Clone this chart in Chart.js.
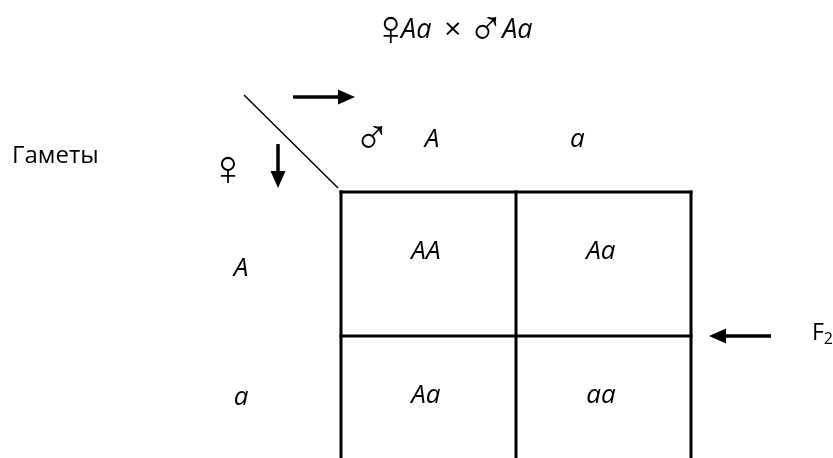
<!DOCTYPE html>
<html>
<head>
<meta charset="UTF-8">
<title>Punnett square</title>
<script src="https://cdn.jsdelivr.net/npm/chart.js@4/dist/chart.umd.min.js"></script>
<style>
  body { margin: 0; background: #fff; }
  #wrap { width: 833px; height: 458px; }
</style>
</head>
<body>
<div id="wrap"><canvas id="punnett" width="833" height="458"></canvas></div>
<script>
// Cross data
const crossTitle = ['♀', 'Aa', '×', '♂', 'Aa'];
const maleGametes = ['A', 'a'];
const femaleGametes = ['A', 'a'];
const offspring = [
    ['AA', 'Aa'],
    ['Aa', 'aa']
];
const gametesLabel = 'Гаметы';
const generationLabel = 'F';
const generationSub = '2';

// Layout, in cell units (one column / one row of the square = 1)
const layout = {
    maleX: [0.52, 1.35], maleY: -0.365,
    femaleX: -0.571, femaleY: [0.535, 1.43],
    cellDx: 0.485, cellDy: 0.415,
    gridBottom: 1.9,
    titleLeft: 0.24, titleY: -1.125,
    titleGaps: [1, 14, 15, 3] // px before parts 1..4
};

const fontText = '"Open Sans", "DejaVu Sans", sans-serif';
const fontSym = '50px "Liberation Sans", "DejaVu Sans", sans-serif';
const fontItalic = 'italic 26px ' + fontText;

// cell points (invisible), so the square lives on the scales
const cellPoints = [];
offspring.forEach((row, r) => row.forEach((g, c) => cellPoints.push({ x: c + layout.cellDx, y: r + layout.cellDy, g: g })));

function isSym(t) { return t === '♀' || t === '♂'; }

function arrow(ctx, x1, y1, x2, y2, head, half, width) {
    const a = Math.atan2(y2 - y1, x2 - x1);
    const bx = x2 - head * Math.cos(a), by = y2 - head * Math.sin(a);
    ctx.save();
    ctx.strokeStyle = '#000';
    ctx.fillStyle = '#000';
    ctx.lineWidth = width;
    ctx.beginPath();
    ctx.moveTo(x1, y1);
    ctx.lineTo(bx, by);
    ctx.stroke();
    ctx.beginPath();
    ctx.moveTo(x2, y2);
    ctx.lineTo(bx + half * Math.sin(a), by - half * Math.cos(a));
    ctx.lineTo(bx - half * Math.sin(a), by + half * Math.cos(a));
    ctx.closePath();
    ctx.fill();
    ctx.restore();
}

const squarePlugin = {
    id: 'square',
    afterDraw(chart) {
        const ctx = chart.ctx;
        const xs = chart.scales.x, ys = chart.scales.y;
        const px = v => xs.getPixelForValue(v);
        const py = v => ys.getPixelForValue(v);
        const cols = maleGametes.length, rows = femaleGametes.length;

        ctx.save();
        // grid of the square (open at the bottom)
        ctx.strokeStyle = '#000';
        ctx.lineWidth = 3;
        for (let c = 0; c <= cols; c++) {
            ctx.beginPath();
            ctx.moveTo(px(c), py(0) - 1.5);
            ctx.lineTo(px(c), py(layout.gridBottom));
            ctx.stroke();
        }
        for (let r = 0; r < rows; r++) {
            ctx.beginPath();
            ctx.moveTo(px(0) - 1.5, py(r));
            ctx.lineTo(px(cols) + 1.5, py(r));
            ctx.stroke();
        }

        // diagonal corner line
        ctx.lineWidth = 1.5;
        ctx.beginPath();
        ctx.moveTo(px(-0.554), py(-0.674));
        ctx.lineTo(px(-0.017), py(-0.028));
        ctx.stroke();

        // arrows
        arrow(ctx, px(-0.274), py(-0.66), px(0.08), py(-0.66), 17, 7.5, 3.5);
        arrow(ctx, px(-0.36), py(-0.333), px(-0.36), py(-0.028), 17, 7.5, 3.5);
        arrow(ctx, px(2.457), py(1), px(2.103), py(1), 17, 7.5, 3.5);

        ctx.fillStyle = '#000';
        ctx.textBaseline = 'middle';

        // title, placed glyph by glyph on its ink box
        ctx.textAlign = 'left';
        let tx = px(layout.titleLeft);
        crossTitle.forEach((t, i) => {
            ctx.font = isSym(t) ? fontSym : (t === '×' ? '30px ' + fontText : 'italic 27px ' + fontText);
            const m = ctx.measureText(t);
            if (i > 0) tx += layout.titleGaps[i - 1];
            ctx.fillText(t, tx + m.actualBoundingBoxLeft, py(layout.titleY) + (isSym(t) ? 1 : 0));
            tx += m.actualBoundingBoxLeft + m.actualBoundingBoxRight;
        });

        // gametes label
        ctx.font = '24px ' + fontText;
        ctx.fillText(gametesLabel, px(-1.88), py(-0.25));

        // sex symbols
        ctx.textAlign = 'center';
        ctx.font = fontSym;
        ctx.fillText('♀', px(-0.646), py(-0.146));
        ctx.fillText('♂', px(0.177), py(-0.361));

        // gametes
        ctx.font = fontItalic;
        maleGametes.forEach((g, i) => ctx.fillText(g, px(layout.maleX[i]), py(layout.maleY)));
        femaleGametes.forEach((g, i) => ctx.fillText(g, px(layout.femaleX), py(layout.femaleY[i])));

        // offspring genotypes
        cellPoints.forEach(p => ctx.fillText(p.g, px(p.x), py(p.y)));

        // F2
        ctx.textAlign = 'left';
        ctx.font = '23px ' + fontText;
        const fx = px(2.691);
        ctx.fillText(generationLabel, fx, py(1) - 3);
        const fw = ctx.measureText(generationLabel).width;
        ctx.font = '16px ' + fontText;
        ctx.fillText(generationSub, fx + fw, py(1) + 3);
        ctx.restore();
    }
};

new Chart(document.getElementById('punnett'), {
    type: 'scatter',
    data: {
        datasets: [{
            label: 'offspring',
            data: cellPoints,
            pointRadius: 0,
            pointHoverRadius: 0
        }]
    },
    options: {
        responsive: false,
        animation: false,
        events: [],
        layout: { padding: 0 },
        scales: {
            x: { type: 'linear', display: false, min: -341 / 175, max: (833 - 341) / 175 },
            y: { type: 'linear', display: false, reverse: true, min: -192 / 144, max: (458 - 192) / 144 }
        },
        plugins: { legend: { display: false }, tooltip: { enabled: false } }
    },
    plugins: [squarePlugin]
});
</script>
</body>
</html>
